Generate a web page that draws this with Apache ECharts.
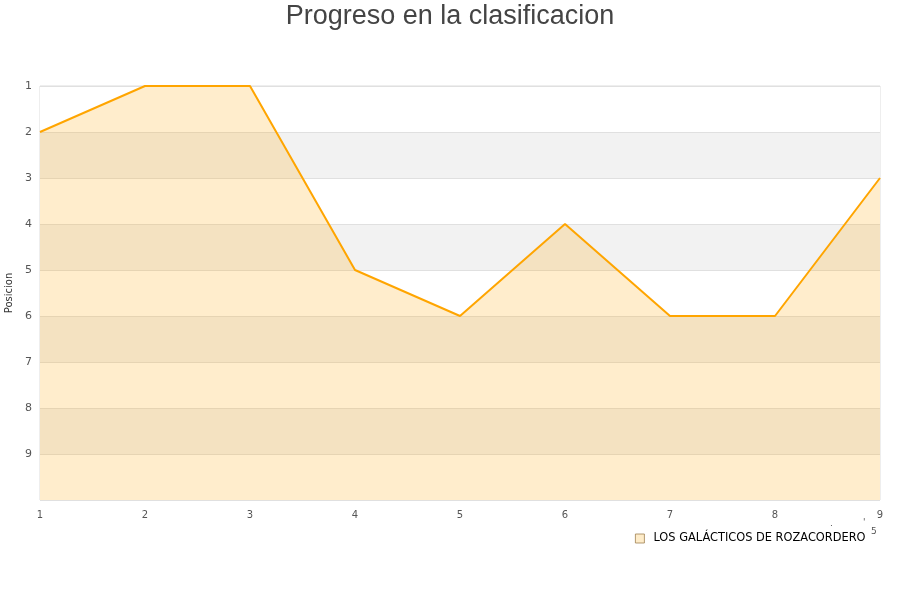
<!DOCTYPE html>
<html>
<head>
<meta charset="utf-8">
<script src="https://cdn.jsdelivr.net/npm/echarts@6/dist/echarts.min.js"></script>
<style>html,body{margin:0;padding:0;background:#fff}#c{width:900px;height:600px}</style>
</head>
<body>
<div id="c"></div>
<script>
const jornadas = ['1','2','3','4','5','6','7','8','9'];
const posiciones = [2, 1, 1, 5, 6, 4, 6, 6, 3];
const equipo = 'LOS GALÁCTICOS DE ROZACORDERO';
const titulo = 'Progreso en la clasificacion';

const chart = echarts.init(document.getElementById('c'));
chart.setOption({
  animation: false,
  backgroundColor: '#fff',
  title: {
    text: titulo, left: 'center', top: -2,
    textStyle: { fontFamily: 'Liberation Sans', fontSize: 27, fontWeight: 'normal', color: '#444' }
  },
  grid: { left: 40, right: 20, top: 86, bottom: 100, outerBoundsMode: 'none', containLabel: false,
    show: true, borderColor: '#ddd', borderWidth: 1, backgroundColor: 'transparent' },
  legend: {
    data: [equipo], left: 630, top: 528, icon: 'rect', itemWidth: 9, itemHeight: 9, itemGap: 8,
    itemStyle: { color: '#feecc9', borderColor: '#a08050', borderWidth: 0.8 },
    textStyle: { fontFamily: 'DejaVu Sans', fontSize: 11.4, color: '#000', padding: [0, 0, 0, 4] }
  },
  xAxis: {
    type: 'category', data: jornadas, boundaryGap: false,
    axisLine: { show: false }, axisTick: { show: false },
    axisLabel: { color: '#555', fontFamily: 'DejaVu Sans', fontSize: 10, margin: 10 },
    splitLine: { show: false }
  },
  yAxis: {
    type: 'value', inverse: true, min: 1, max: 10, interval: 1,
    name: 'Posicion', nameLocation: 'middle', nameGap: 24, nameRotate: 90,
    nameTextStyle: { color: '#333', fontFamily: 'DejaVu Sans', fontSize: 10 },
    axisLine: { show: false }, axisTick: { show: false },
    axisLabel: { color: '#555', fontFamily: 'DejaVu Sans', fontSize: 11, margin: 8,
      formatter: v => (v >= 10 ? '' : String(v)) },
    splitLine: { show: true, lineStyle: { color: '#e0e0e0', width: 1 } },
    splitArea: { show: true, areaStyle: { color: ['#ffffff', '#f2f2f2'] } }
  },
  series: [{
    name: equipo, type: 'line', data: posiciones, showSymbol: false, symbol: 'none',
    lineStyle: { color: '#ffa500', width: 2 },
    itemStyle: { color: '#ffa500' },
    areaStyle: { color: 'rgba(255,165,0,0.2)', opacity: 1, origin: 'end' }
  }],
  graphic: [
    { type: 'text', left: 871, top: 527, style: { text: '5', fill: '#555', font: '9px DejaVu Sans' } },
    { type: 'text', left: 830, top: 519, style: { text: '.', fill: '#555', font: '9px DejaVu Sans' } },
    { type: 'text', left: 863, top: 518, style: { text: "'", fill: '#555', font: '9px DejaVu Sans' } }
  ]
});
</script>
</body>
</html>
